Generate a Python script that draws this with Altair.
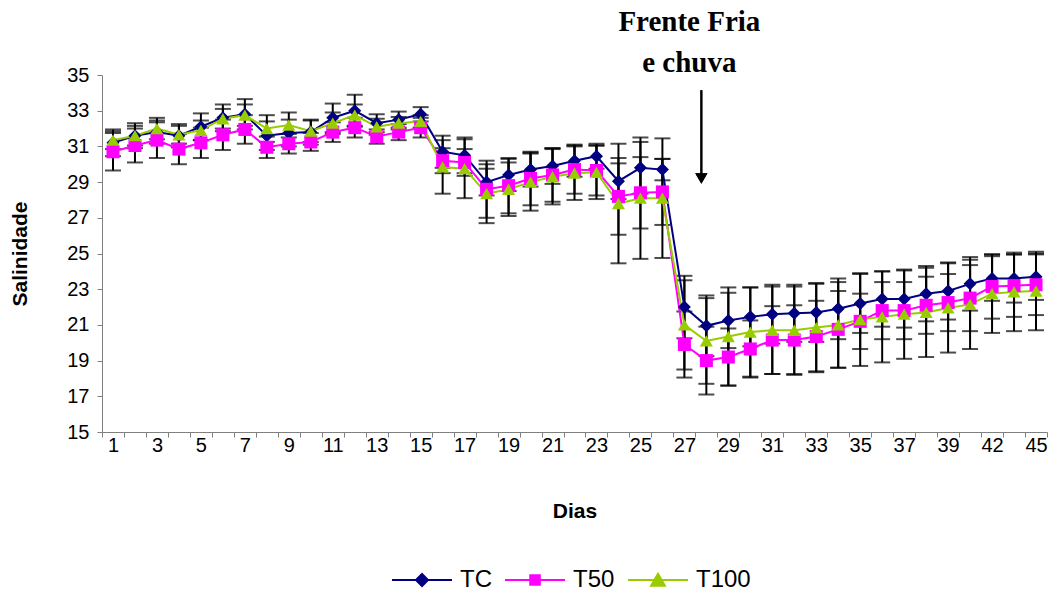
import altair as alt
import pandas as pd

# Dias de coleta (eixo de categorias)
dias = [str(d) for d in range(1, 41)] + ["42", "43", "45"]
dias_rotulo = dias[::2]

series = ["TC", "T50", "T100"]
cores = ["#000080", "#FF00FF", "#99CC00"]

# Salinidade média por tratamento
tc = [31.2, 31.6, 31.8, 31.6, 32.1, 32.6, 32.8, 31.6, 31.75, 31.8, 32.6, 33.0, 32.3, 32.5, 32.8,
      30.7, 30.5, 29.0, 29.4, 29.7, 29.9, 30.2, 30.45, 29.05, 29.8, 29.7,
      22.0, 20.95, 21.25, 21.45, 21.6, 21.65, 21.7, 21.9, 22.2, 22.45, 22.45, 22.75, 22.9, 23.3, 23.6, 23.6, 23.7]
t50 = [30.7, 31.05, 31.35, 30.85, 31.2, 31.65, 31.95, 30.95, 31.15, 31.25, 31.8, 32.05, 31.55, 31.8, 32.05,
       30.2, 30.1, 28.6, 28.8, 29.2, 29.4, 29.7, 29.65, 28.2, 28.4, 28.45,
       19.9, 19.0, 19.2, 19.65, 20.15, 20.15, 20.35, 20.75, 21.2, 21.8, 21.8, 22.1, 22.25, 22.5, 23.15, 23.2, 23.25]
t100 = [31.35, 31.6, 32.0, 31.65, 31.9, 32.55, 32.75, 32.0, 32.2, 31.85, 32.3, 32.75, 32.1, 32.3, 32.4,
        29.85, 29.75, 28.35, 28.6, 29.0, 29.3, 29.5, 29.55, 27.8, 28.1, 28.1,
        21.0, 20.1, 20.35, 20.6, 20.7, 20.7, 20.85, 21.0, 21.3, 21.45, 21.6, 21.7, 21.95, 22.15, 22.75, 22.85, 22.9]

# Desvio padrão por tratamento
tc_dp = [0.75, 0.7, 0.65, 0.65, 0.75, 0.75, 0.85, 0.8, 0.75, 0.7, 0.8, 0.9, 0.5, 0.45, 0.4,
         0.9, 1.0, 0.75, 0.9, 0.95, 1.0, 0.9, 0.7, 1.0, 1.45, 0.6,
         1.75, 1.7, 1.55, 1.65, 1.65, 1.6, 1.65, 1.7, 1.65, 1.55, 1.6, 1.55, 1.6, 1.5, 1.25, 1.35, 1.3]
t50_dp = [1.05, 0.95, 1.0, 0.85, 0.85, 0.85, 0.8, 0.6, 0.55, 0.5, 0.55, 0.55, 0.4, 0.45, 0.55,
          0.7, 0.75, 1.6, 1.55, 1.5, 1.5, 1.35, 1.4, 2.15, 2.0, 1.85,
          1.85, 1.9, 1.6, 1.6, 1.9, 1.95, 2.0, 2.15, 1.55, 1.6, 1.6, 1.6, 1.6, 1.85, 1.8, 1.75, 1.7]
t100_dp = [0.5, 0.55, 0.6, 0.5, 0.55, 0.55, 0.6, 0.75, 0.7, 0.6, 0.6, 0.6, 0.45, 0.35, 0.35,
           1.5, 1.65, 1.65, 1.5, 1.6, 1.55, 1.5, 1.5, 3.35, 3.4, 3.35,
           2.5, 2.4, 2.75, 2.5, 2.45, 2.45, 2.45, 2.4, 2.6, 2.55, 2.5, 2.5, 2.5, 2.5, 2.2, 2.2, 2.2]

frames = []
for nome, med, dp in [("TC", tc, tc_dp), ("T50", t50, t50_dp), ("T100", t100, t100_dp)]:
    frames.append(pd.DataFrame({"dia": dias, "serie": nome, "sal": med, "dp": dp}))
df = pd.concat(frames, ignore_index=True)
df["lo"] = df["sal"] - df["dp"]
df["hi"] = df["sal"] + df["dp"]

# Legend glyphs: a line segment with the series marker in its middle
simb_legenda = [
    "M-5,0H5M0,-1L1,0L0,1L-1,0Z",
    "M-5,0H5M-0.8,-0.8H0.8V0.8H-0.8Z",
    "M-5,0H5M0,-1.05L1.15,0.95H-1.15Z",
]

FONTE = "Liberation Sans"
label_expr = "indexof(" + str(dias_rotulo) + ", datum.value) >= 0 ? datum.label : ''"

x_axis = alt.Axis(
    title="Dias",
    tickBand="extent",
    labelExpr=label_expr,
    labelAngle=0,
    labelOverlap=False,
    labelPadding=-2,
    titlePadding=45,
)
x_scale = alt.Scale(type="band", paddingInner=0, paddingOuter=0)
x_enc = alt.X("dia:O", sort=dias, bandPosition=0.5, scale=x_scale, axis=x_axis)

y_scale = alt.Scale(domain=[15, 35], nice=False, zero=False)
y_axis = alt.Axis(
    title="Salinidade",
    values=list(range(15, 36, 2)),
    labelOverlap=False,
    tickCount=11,
    labelPadding=8,
    titlePadding=36,
)


def y_campo(campo):
    return alt.Y(campo, scale=y_scale, axis=y_axis)


base = alt.Chart(df)

barras = base.mark_rule(color="black", strokeWidth=2).encode(
    x=x_enc, y=y_campo("lo:Q"), y2="hi:Q"
)
cap_lo = base.mark_tick(color="black", thickness=2, size=16).encode(
    x=alt.X("dia:O", sort=dias, scale=x_scale, axis=x_axis), y=y_campo("lo:Q")
)
cap_hi = base.mark_tick(color="black", thickness=2, size=16).encode(
    x=alt.X("dia:O", sort=dias, scale=x_scale, axis=x_axis), y=y_campo("hi:Q")
)

cor = alt.Color("serie:N", scale=alt.Scale(domain=series, range=cores), legend=None)

linhas = base.mark_line(strokeWidth=2).encode(x=x_enc, y=y_campo("sal:Q"), color=cor, detail="serie:N")
pontos = base.mark_point(filled=True, opacity=1, size=170).encode(
    x=x_enc,
    y=y_campo("sal:Q"),
    color=cor,
    shape=alt.Shape(
        "serie:N",
        scale=alt.Scale(domain=series, range=["diamond", "square", "triangle-up"]),
        legend=None,
    ),
)

leg = alt.Legend(
    title=None,
    orient="none",
    legendX=308,
    legendY=493,
    direction="horizontal",
    symbolSize=144,
    symbolStrokeWidth=2,
    labelFont=FONTE,
    labelFontSize=24,
    labelOffset=26,
    columnPadding=9,
    labelColor="black",
)
legenda = (
    base.transform_filter("false")
    .mark_point(filled=True, opacity=1, size=144, strokeWidth=2)
    .encode(
        x=x_enc,
        y=y_campo("sal:Q"),
        color=alt.Color("serie:N", scale=alt.Scale(domain=series, range=cores), legend=leg),
        stroke=alt.Stroke("serie:N", scale=alt.Scale(domain=series, range=cores), legend=leg),
        shape=alt.Shape("serie:N", scale=alt.Scale(domain=series, range=simb_legenda), legend=leg),
    )
)

# Annotation: cold front and rain
nota = pd.DataFrame({"txt": ["Frente Fria", "e chuva"], "sal": [37.95, 35.65]})
x_nota = alt.X(datum="28", scale=x_scale, axis=x_axis)
texto = alt.Chart(nota).mark_text(
    font="Liberation Serif", fontWeight="bold", fontSize=29, color="black", dx=-17
).encode(x=x_nota, y=y_campo("sal:Q"), text="txt:N")
seta = alt.Chart(nota).mark_rule(color="black", strokeWidth=2, xOffset=-5).encode(
    x=x_nota, y=alt.Y(datum=34.15, scale=y_scale, axis=y_axis), y2=alt.Y2(datum=29.3)
)
ponta = alt.Chart(nota).mark_point(
    shape="triangle-down", filled=True, color="black", size=150, opacity=1, xOffset=-5
).encode(x=x_nota, y=alt.Y(datum=29.2, scale=y_scale, axis=y_axis))

chart = (
    alt.layer(barras, cap_lo, cap_hi, linhas, pontos, legenda, texto, seta, ponta)
    .resolve_scale(color="independent", shape="independent", stroke="independent")
    .properties(width=945, height=357, background="white", padding={"left": 9, "top": 8, "right": 5, "bottom": 2})
    .configure_view(stroke=None)
    .configure_axis(
        grid=False,
        domainColor="#808080",
        tickColor="#808080",
        tickSize=5,
        labelFont=FONTE,
        labelFontSize=20,
        labelColor="black",
        titleFont=FONTE,
        titleFontSize=21,
        titleFontWeight="bold",
        titleColor="black",
    )
)

chart.save("out.html", embed_options={"renderer": "svg", "actions": False})
